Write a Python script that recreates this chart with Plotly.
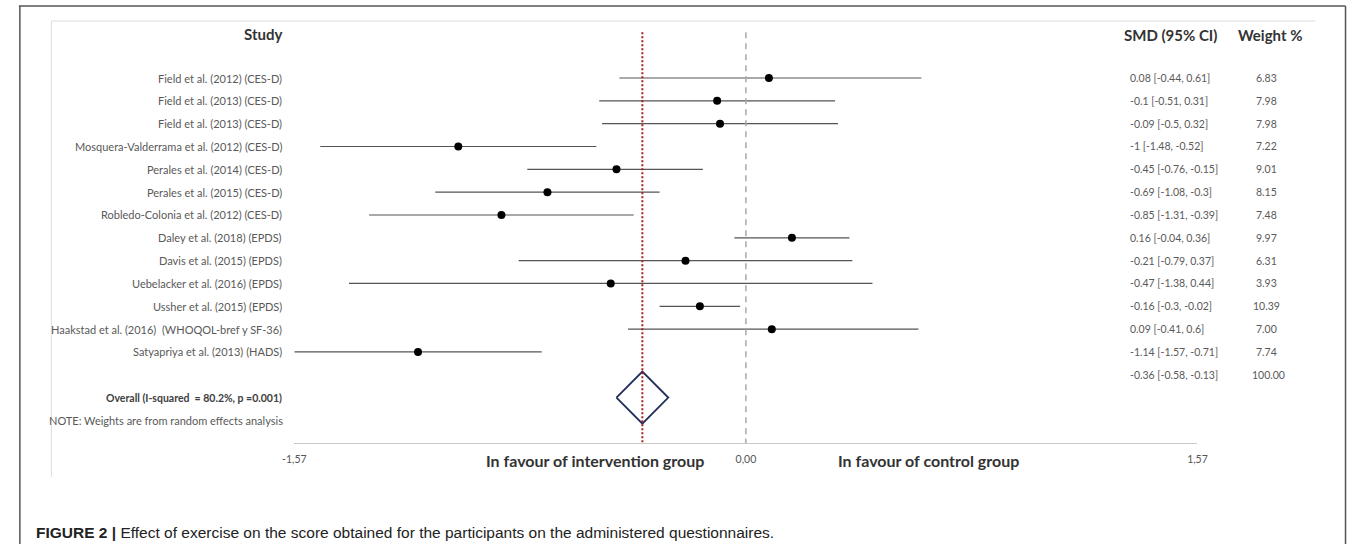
import plotly.graph_objects as go

# ---------------- data ----------------
studies = [
    "Field et al. (2012) (CES-D)",
    "Field et al. (2013) (CES-D)",
    "Field et al. (2013) (CES-D)",
    "Mosquera-Valderrama et al. (2012) (CES-D)",
    "Perales et al. (2014) (CES-D)",
    "Perales et al. (2015) (CES-D)",
    "Robledo-Colonia et al. (2012) (CES-D)",
    "Daley et al. (2018) (EPDS)",
    "Davis et al. (2015) (EPDS)",
    "Uebelacker et al. (2016) (EPDS)",
    "Ussher et al. (2015) (EPDS)",
    "Haakstad et al. (2016)  (WHOQOL-bref y SF-36)",
    "Satyapriya et al. (2013) (HADS)",
]
smd = [0.08, -0.1, -0.09, -1, -0.45, -0.69, -0.85, 0.16, -0.21, -0.47, -0.16, 0.09, -1.14]
ci_low = [-0.44, -0.51, -0.5, -1.48, -0.76, -1.08, -1.31, -0.04, -0.79, -1.38, -0.3, -0.41, -1.57]
ci_high = [0.61, 0.31, 0.32, -0.52, -0.15, -0.3, -0.39, 0.36, 0.37, 0.44, -0.02, 0.6, -0.71]
weights = [6.83, 7.98, 7.98, 7.22, 9.01, 8.15, 7.48, 9.97, 6.31, 3.93, 10.39, 7.00, 7.74]

overall_smd = -0.36
overall_low = -0.58
overall_high = -0.13
overall_weight = 100.00

axis_tickvals = [-1.57, 0.0, 1.57]
axis_ticktext = ["-1,57", "0,00", "1,57"]

overall_label = "Overall (I-squared  = 80.2%, p =0.001)"
note_label = "NOTE: Weights are from random effects analysis"
left_side_label = "In favour of intervention group"
right_side_label = "In favour of control group"
caption_bold = "FIGURE 2 |"
caption_text = "Effect of exercise on the score obtained for the participants on the administered questionnaires."

# ---------------- geometry / style ----------------
W, H = 1357, 544
ROW0_PX = 78.0        # pixel y of row 1
ROW_PX = 22.83        # pixel spacing between rows
AXIS_ROW = 17         # row at which the x axis sits
X_LEFT_PX, X_RIGHT_PX = 287, 1205

DIAMOND_HALF_W = 0.09
DIAMOND_HALF_H = 1.14

LABEL_FONT = "Lato"
LABEL_COLOR = "#595959"
HEAD_COLOR = "#333333"
ROW_SIZE = 11
NUM_SIZE = 10.5
HEAD_SIZE = 15


def row_to_py(r):
    return ROW0_PX + (r - 1) * ROW_PX


def px(x):
    return x / W


def py(y):
    return 1 - y / H


n = len(studies)
rows = list(range(1, n + 1))
overall_val_row = n + 1
overall_row = n + 2
note_row = n + 3

y_top_row = 1 - ROW0_PX / ROW_PX
axis_px = row_to_py(AXIS_ROW)

fig = go.Figure()

# CI lines
xs, ys = [], []
for r, lo, hi in zip(rows, ci_low, ci_high):
    xs += [lo, hi, None]
    ys += [r, r, None]
fig.add_trace(go.Scatter(x=xs, y=ys, mode="lines",
                         line=dict(color="#555555", width=1.2),
                         hoverinfo="skip", showlegend=False))

# point estimates
fig.add_trace(go.Scatter(x=smd, y=rows, mode="markers",
                         marker=dict(color="black", size=8),
                         showlegend=False))

# overall diamond
fig.add_trace(go.Scatter(
    x=[overall_smd - DIAMOND_HALF_W, overall_smd, overall_smd + DIAMOND_HALF_W, overall_smd,
       overall_smd - DIAMOND_HALF_W],
    y=[overall_row, overall_row - DIAMOND_HALF_H, overall_row, overall_row + DIAMOND_HALF_H,
       overall_row],
    mode="lines", line=dict(color="#1f2d5a", width=1.8), showlegend=False,
    hoverinfo="skip"))

shapes = []
# null line (dashed grey)
shapes.append(dict(type="line", xref="x", yref="y", x0=0, x1=0, y0=-1.0, y1=AXIS_ROW,
                   line=dict(color="#a8a8a8", width=1.5, dash="6px,5px")))
# overall estimate line (red dotted)
shapes.append(dict(type="line", xref="x", yref="y", x0=overall_smd, x1=overall_smd,
                   y0=-1.0, y1=AXIS_ROW - 0.05,
                   line=dict(color="#a82020", width=2, dash="2px,2px")))
# inner image border (light grey, top and left)
shapes.append(dict(type="line", xref="paper", yref="paper", x0=px(40), x1=px(1325),
                   y0=py(21), y1=py(21), line=dict(color="#dcdcdc", width=1)))
shapes.append(dict(type="line", xref="paper", yref="paper", x0=px(40), x1=px(40),
                   y0=py(21), y1=py(477), line=dict(color="#dcdcdc", width=1)))
# outer frame (dark grey)
shapes.append(dict(type="line", xref="paper", yref="paper", x0=px(7), x1=px(1355.5),
                   y0=py(6), y1=py(6), line=dict(color="#555555", width=1.5)))
shapes.append(dict(type="line", xref="paper", yref="paper", x0=px(8), x1=px(8),
                   y0=py(6), y1=0, line=dict(color="#555555", width=1.5)))
shapes.append(dict(type="line", xref="paper", yref="paper", x0=px(1355.5), x1=px(1355.5),
                   y0=py(6), y1=0, line=dict(color="#555555", width=1.5)))

annotations = []


def add_text(text, x, y, xanchor="left", size=ROW_SIZE, color=LABEL_COLOR, family=LABEL_FONT,
             xref="paper", yref="paper"):
    annotations.append(dict(text=text, x=x, y=y, xref=xref, yref=yref,
                            xanchor=xanchor, yanchor="middle", showarrow=False,
                            font=dict(size=size, color=color, family=family)))


# headers
add_text("<b>Study</b>", px(276), py(34), xanchor="right", size=HEAD_SIZE, color=HEAD_COLOR)
add_text("<b>SMD (95% CI)</b>", px(1128), py(35), xanchor="left", size=HEAD_SIZE, color=HEAD_COLOR)
add_text("<b>Weight %</b>", px(1279), py(35), xanchor="center", size=HEAD_SIZE, color=HEAD_COLOR)

# study rows
for r, s, v, lo, hi, w in zip(rows, studies, smd, ci_low, ci_high, weights):
    add_text(s, px(276), r, xanchor="right", yref="y")
    add_text(f"{v:g} [{lo:g}, {hi:g}]", px(1134), r, xanchor="left", yref="y", size=NUM_SIZE)
    add_text(f"{w:.2f}", px(1275), r, xanchor="center", yref="y", size=NUM_SIZE)

# overall
add_text(f"{overall_smd:g} [{overall_low:g}, {overall_high:g}]", px(1134), overall_val_row,
         xanchor="left", yref="y", size=NUM_SIZE)
add_text(f"{overall_weight:.2f}", px(1277), overall_val_row, xanchor="center", yref="y",
         size=NUM_SIZE)
add_text(f"<b>{overall_label}</b>", px(276), overall_row, xanchor="right", yref="y",
         color="#404040", size=10.5)
add_text(note_label, px(277), note_row, xanchor="right", yref="y")

# side labels under the axis
add_text(f"<b>{left_side_label}</b>", px(593), py(460), xanchor="center", size=16,
         color=HEAD_COLOR)
add_text(f"<b>{right_side_label}</b>", px(932), py(460), xanchor="center", size=16,
         color=HEAD_COLOR)

# caption
annotations.append(dict(
    text=f"<b>{caption_bold}</b> {caption_text}",
    x=px(22), y=py(532), xref="paper", yref="paper", xanchor="left", yanchor="middle",
    showarrow=False, font=dict(size=15.5, color="#222222", family="Liberation Sans")))

y_bottom_frac = 1 - axis_px / H
fig.update_layout(
    width=W, height=H,
    margin=dict(l=0, r=0, t=0, b=0),
    paper_bgcolor="white", plot_bgcolor="rgba(0,0,0,0)",
    xaxis=dict(domain=[px(X_LEFT_PX), px(X_RIGHT_PX)], range=[-1.57, 1.57],
               showgrid=False, zeroline=False, showline=True, linecolor="#c8c8c8",
               linewidth=1, ticks="inside", ticklen=5, tickcolor="#c8c8c8",
               tickvals=axis_tickvals, ticktext=axis_ticktext,
               tickfont=dict(size=10.5, color="#555555", family=LABEL_FONT),
               ticklabelstandoff=6, fixedrange=True),
    yaxis=dict(domain=[y_bottom_frac, 1], range=[AXIS_ROW, y_top_row], visible=False,
               showgrid=False, zeroline=False, fixedrange=True),
    shapes=shapes, annotations=annotations, showlegend=False,
)

fig.write_html(
    "out.html",
    config={"displayModeBar": False},
    post_script="document.body.style.margin='0';document.body.style.overflow='hidden';",
)
